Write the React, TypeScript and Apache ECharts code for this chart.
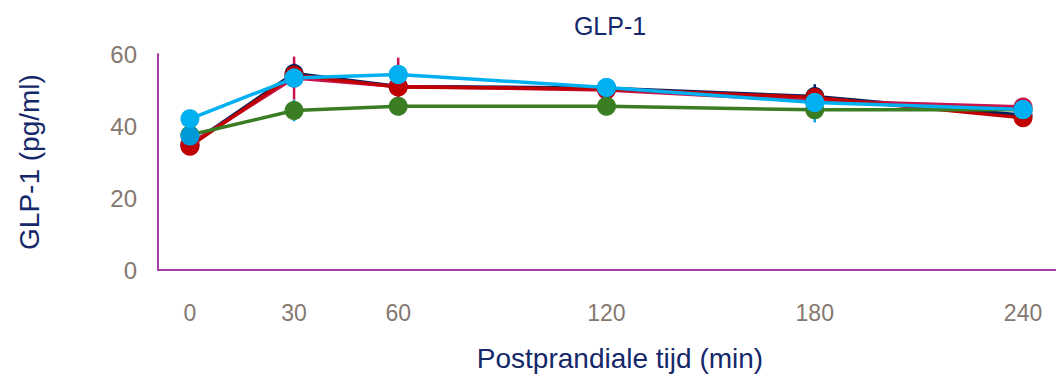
import React, { useEffect, useRef } from "react";
import * as echarts from "echarts";

const times = [0, 30, 60, 120, 180, 240];
const xTickLabels = [0, 30, 60, 120, 180, 240];
const yTicks = [0, 20, 40, 60];

const navy = [34.8, 54.6, 51.0, 50.5, 48.2, 43.0];
const navyErr = [1, 3, 3, 2, 3.4, 3];
const crimson = [35.0, 53.3, 51.0, 50.0, 47.0, 45.3];
const crimsonErr = [1, 6, 8, 1, 1, 1];
const red = [34.4, 54.2, 50.8, 50.3, 47.9, 42.3];
const redErr = [1, 2, 2, 1.5, 2, 1.5];
const green = [37.5, 44.3, 45.5, 45.5, 44.5, 44.5];
const greenErr = [1, 3, 2.5, 2.5, 3.5, 1];
const blue = [37.2, 53.3, 54.3, 50.7, 46.5, 44.5];
const blueErr = [1, 1, 1, 1, 1, 3.2];
const lightBlue = [42.0, 53.3, 54.3, 50.7, 46.5, 44.6];
const lightBlueErr = [1, 1, 1, 1, 1, 1];

const seriesDefs = [
  { name: "navy", values: navy, err: navyErr, color: "#002060", errColor: "#002060", line: true },
  { name: "crimson", values: crimson, err: crimsonErr, color: "#C8144B", errColor: "#C8144B", line: true },
  { name: "red", values: red, err: redErr, color: "#C00000", errColor: "#C00000", line: true },
  { name: "green", values: green, err: greenErr, color: "#3A7D22", errColor: "#00A6E6", line: true },
  { name: "blue", values: blue, err: blueErr, color: "#0099D8", errColor: "#00A6E6", line: false },
  { name: "lightBlue", values: lightBlue, err: lightBlueErr, color: "#00B0F0", errColor: "#00B0F0", line: true },
];

export default function App() {
  const ref = useRef<HTMLDivElement>(null);
  useEffect(() => {
    if (!ref.current) return;
    const chart = echarts.init(ref.current, undefined, { renderer: "svg" });
    const errSeries: any[] = seriesDefs.map((s) => ({
      type: "custom",
      name: s.name + "Err",
      z: 1,
      data: times.map((t, i) => [t, s.values[i] - s.err[i], s.values[i] + s.err[i]]),
      renderItem: (params: any, api: any) => {
        const p1 = api.coord([api.value(0), api.value(1)]);
        const p2 = api.coord([api.value(0), api.value(2)]);
        return {
          type: "line",
          shape: { x1: p1[0], y1: p1[1], x2: p2[0], y2: p2[1] },
          style: { stroke: s.errColor, lineWidth: 2.5 },
        };
      },
      silent: true,
    }));
    const lineSeries: any[] = seriesDefs.map((s) => ({
      type: "line",
      name: s.name,
      z: 2,
      data: times.map((t, i) => [t, s.values[i]]),
      symbol: "circle",
      symbolSize: 19,
      showSymbol: true,
      itemStyle: { color: s.color },
      lineStyle: { color: s.color, width: s.line ? 3.5 : 0 },
    }));
    chart.setOption({
      animation: false,
      title: {
        text: "GLP-1",
        left: 605,
        top: 8,
        textAlign: "center",
        textStyle: { color: "#14286A", fontSize: 25, fontWeight: "normal", fontFamily: "Liberation Sans" },
      },
      grid: { left: 158, top: 54, right: 0, bottom: 108, containLabel: false, outerBoundsMode: "none" },
      xAxis: {
        type: "value",
        min: -9.2,
        max: 249.5,
        name: "Postprandiale tijd (min)",
        nameLocation: "middle",
        nameGap: 74,
        nameTextStyle: { color: "#14286A", fontSize: 28, fontFamily: "Liberation Sans", padding: [0, 0, 0, 26] },
        axisLine: { show: true, onZero: false, lineStyle: { color: "#A83CA6", width: 2 } },
        axisTick: { show: false },
        splitLine: { show: false },
        axisLabel: {
          customValues: xTickLabels,
          color: "#857870",
          fontSize: 23,
          margin: 31,
          fontFamily: "Liberation Sans",
        },
      },
      yAxis: {
        type: "value",
        min: 0,
        max: 60,
        interval: 20,
        name: "GLP-1 (pg/ml)",
        nameLocation: "middle",
        nameGap: 115,
        nameRotate: 90,
        nameTextStyle: { color: "#14286A", fontSize: 28, fontFamily: "Liberation Sans" },
        axisLine: { show: true, onZero: false, lineStyle: { color: "#A83CA6", width: 2 } },
        axisTick: { show: false },
        splitLine: { show: false },
        axisLabel: {
          customValues: yTicks,
          color: "#857870",
          fontSize: 24,
          margin: 21,
          fontFamily: "Liberation Sans",
        },
      },
      series: [...errSeries, ...lineSeries],
    });
    return () => chart.dispose();
  }, []);
  return <div ref={ref} style={{ width: 1056, height: 378, position: "absolute", left: 0, top: 0 }} />;
}
